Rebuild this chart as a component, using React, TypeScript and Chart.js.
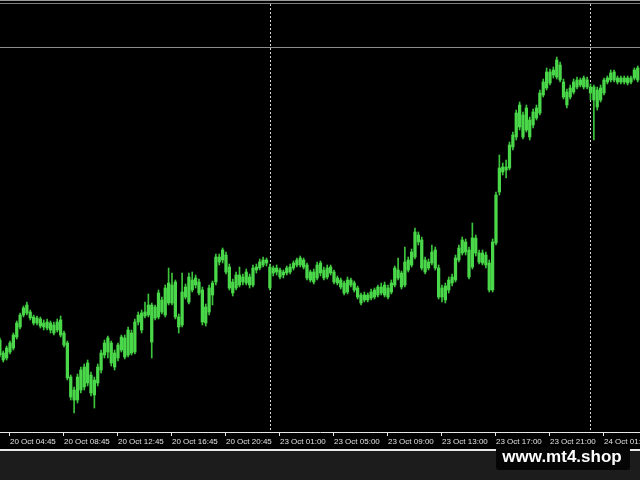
import { useEffect, useRef } from "react";
import { Chart, registerables } from "chart.js";

Chart.register(...registerables);

// M15 bars, index 0 = 20 Oct 04:00 (prices in points)
const openP = [
  100, 80, 82, 88, 92, 103, 113, 125, 127, 128,
  123, 117, 121, 113, 118, 110, 115, 110, 120, 107,
  97, 63, 40, 40, 50, 53, 77, 65, 45, 57,
  70, 85, 102, 97, 73, 82, 103, 83, 110, 87,
  88, 118, 127, 124, 125, 135, 122, 123, 140, 125,
  137, 155, 158, 113, 115, 143, 138, 160, 155, 158,
  150, 117, 128, 145, 158, 183, 180, 185, 173, 147,
  165, 155, 163, 157, 163, 155, 170, 172, 175, 180,
  152, 172, 168, 170, 165, 167, 168, 172, 175, 175,
  180, 175, 168, 158, 162, 177, 162, 163, 173, 168,
  162, 160, 157, 148, 160, 157, 152, 145, 140, 145,
  142, 143, 145, 153, 145, 152, 148, 155, 170, 167,
  155, 170, 175, 183, 205, 200, 168, 178, 177, 190,
  172, 143, 154, 150, 157, 160, 180, 187, 198, 190,
  173, 202, 187, 177, 185, 177, 150, 197, 248, 273,
  270, 272, 293, 303, 313, 325, 310, 320, 315, 322,
  327, 345, 352, 368, 365, 363, 375, 358, 348, 343,
  348, 353, 360, 353, 360, 353, 340, 350, 340, 347,
  358, 360, 368, 358, 362, 358, 362, 358, 362, 372,
];
const highP = [
  102, 89, 94, 99, 107, 119, 127, 134, 138, 130,
  125, 124, 123, 120, 121, 119, 118, 121, 124, 109,
  99, 65, 53, 66, 73, 76, 80, 68, 63, 76,
  90, 100, 104, 99, 90, 97, 105, 105, 113, 110,
  121, 128, 130, 138, 146, 137, 135, 150, 143, 155,
  172, 167, 160, 126, 167, 156, 167, 168, 165, 161,
  153, 136, 155, 159, 186, 186, 192, 188, 176, 161,
  168, 173, 166, 171, 166, 175, 176, 181, 183, 182,
  176, 174, 175, 172, 170, 174, 176, 179, 182, 184,
  182, 177, 170, 171, 178, 179, 173, 175, 175, 170,
  164, 162, 159, 163, 162, 159, 154, 147, 148, 147,
  151, 152, 155, 157, 158, 155, 160, 174, 182, 169,
  193, 183, 191, 212, 208, 203, 183, 181, 195, 193,
  175, 155, 157, 163, 166, 185, 195, 203, 201, 193,
  217, 205, 190, 190, 188, 180, 201, 248, 285, 277,
  280, 298, 308, 330, 338, 328, 335, 323, 331, 335,
  350, 361, 372, 371, 373, 383, 378, 361, 351, 355,
  361, 363, 362, 364, 363, 356, 355, 353, 355, 362,
  364, 370, 370, 364, 364, 364, 364, 364, 372, 374,
];
const lowP = [
  83, 78, 80, 86, 90, 101, 111, 123, 125, 120,
  115, 115, 112, 110, 110, 107, 105, 108, 103, 93,
  60, 40, 27, 37, 47, 50, 54, 44, 32, 54,
  67, 82, 82, 74, 70, 79, 88, 81, 83, 85,
  86, 115, 107, 122, 123, 82, 120, 121, 126, 123,
  135, 135, 121, 107, 113, 141, 136, 148, 152, 145,
  115, 114, 125, 135, 155, 175, 177, 166, 150, 144,
  150, 153, 155, 155, 152, 153, 167, 170, 173, 174,
  150, 164, 165, 161, 162, 165, 166, 170, 173, 173,
  171, 160, 158, 156, 160, 164, 160, 161, 165, 156,
  155, 151, 145, 146, 153, 148, 141, 135, 138, 138,
  140, 141, 143, 145, 143, 141, 146, 153, 160, 151,
  153, 168, 173, 181, 195, 170, 166, 170, 175, 170,
  141, 138, 137, 147, 154, 158, 178, 185, 185, 161,
  171, 184, 176, 175, 172, 148, 148, 195, 245, 265,
  262, 270, 290, 300, 310, 301, 308, 300, 312, 320,
  325, 343, 350, 355, 362, 361, 358, 341, 332, 341,
  346, 351, 353, 351, 351, 340, 300, 330, 338, 345,
  356, 358, 358, 356, 356, 356, 355, 356, 360, 358,
];
const closeP = [
  85, 87, 92, 97, 105, 117, 125, 132, 135, 122,
  117, 122, 114, 117, 112, 117, 107, 118, 105, 95,
  62, 43, 50, 63, 70, 73, 57, 47, 60, 73,
  87, 97, 88, 77, 87, 95, 90, 102, 85, 107,
  118, 125, 110, 128, 135, 98, 133, 147, 128, 152,
  157, 137, 123, 123, 148, 153, 163, 150, 162, 147,
  118, 133, 152, 157, 183, 178, 190, 168, 152, 158,
  152, 165, 158, 168, 155, 172, 173, 178, 180, 177,
  173, 167, 172, 163, 168, 172, 173, 177, 180, 182,
  173, 162, 160, 168, 175, 167, 170, 172, 167, 158,
  157, 153, 147, 160, 155, 150, 143, 137, 145, 140,
  148, 150, 153, 147, 155, 143, 157, 172, 162, 153,
  178, 180, 188, 208, 198, 172, 180, 172, 188, 172,
  143, 152, 140, 160, 163, 182, 192, 200, 188, 163,
  202, 187, 178, 187, 175, 150, 198, 245, 272, 268,
  273, 295, 305, 327, 335, 303, 332, 303, 328, 332,
  347, 358, 368, 357, 370, 380, 360, 343, 335, 352,
  358, 360, 355, 362, 353, 347, 353, 333, 352, 360,
  362, 367, 360, 362, 358, 362, 357, 362, 370, 360,
];

const tickIndex = [3, 19, 35, 51, 67, 83, 99, 115, 131, 147, 163, 179];
const tickLabels = [
  "20 Oct 04:45", "20 Oct 08:45", "20 Oct 12:45", "20 Oct 16:45",
  "20 Oct 20:45", "23 Oct 01:00", "23 Oct 05:00", "23 Oct 09:00",
  "23 Oct 13:00", "23 Oct 17:00", "23 Oct 21:00", "24 Oct 01:00",
];
const separatorIndex = [80, 175];
const levelLine = 393;
const watermark = "www.mt4.shop";

const BODY = "#4ad84a";
const WICK = "#3cc43c";

export default function App() {
  const ref = useRef<HTMLCanvasElement | null>(null);

  useEffect(() => {
    if (!ref.current) return;
    const wickData = highP.map((h, i) => ({ x: i, y: [lowP[i], h] }));
    const bodyData = openP.map((o, i) => ({ x: i, y: [o, closeP[i]] }));

    const frame = {
      id: "mt4frame",
      beforeDraw(chart: any) {
        const c = chart.ctx;
        c.save();
        c.fillStyle = "#1c1c1c";
        c.fillRect(0, 0, 640, 480);
        c.fillStyle = "#000000";
        c.fillRect(0, 0, 640, 450);
        c.fillStyle = "#999999";
        c.fillRect(0, 0, 640, 1);
        c.fillStyle = "#808080";
        c.fillRect(0, 3, 640, 1);
        c.restore();
      },
      beforeDatasetsDraw(chart: any) {
        const c = chart.ctx;
        const xs = chart.scales.x;
        const ys = chart.scales.y;
        const ca = chart.chartArea;
        c.save();
        c.strokeStyle = "#8c8c8c";
        c.lineWidth = 1;
        const yl = Math.round(ys.getPixelForValue(levelLine)) + 0.5;
        c.beginPath();
        c.moveTo(0, yl);
        c.lineTo(640, yl);
        c.stroke();
        c.strokeStyle = "#d0d0d0";
        c.setLineDash([2, 2]);
        separatorIndex.forEach((s) => {
          const x = Math.round(xs.getPixelForValue(s)) + 0.5;
          c.beginPath();
          c.moveTo(x, 4);
          c.lineTo(x, ca.bottom);
          c.stroke();
        });
        c.restore();
      },
      afterDraw(chart: any) {
        const c = chart.ctx;
        c.save();
        c.fillStyle = "#e8e8e8";
        c.fillRect(0, 449, 640, 2);
        c.fillStyle = "#050505";
        c.beginPath();
        (c as any).roundRect(496, 447, 134, 23, 3);
        c.fill();
        c.fillStyle = "#ffffff";
        c.font = "bold 17px 'Liberation Sans', Arial, sans-serif";
        c.textAlign = "center";
        c.textBaseline = "alphabetic";
        c.fillText(watermark, 562, 462);
        c.restore();
      },
    };

    const chart = new Chart(ref.current, {
      type: "bar",
      data: {
        datasets: [
          {
            label: "wick",
            data: wickData as any,
            backgroundColor: WICK,
            barThickness: 1,
            grouped: false,
            order: 2,
          } as any,
          {
            label: "body",
            data: bodyData as any,
            backgroundColor: BODY,
            barThickness: 2.6,
            grouped: false,
            order: 1,
          } as any,
        ],
      },
      options: {
        animation: false,
        responsive: false,
        maintainAspectRatio: false,
        layout: { padding: { top: 5, left: 0, right: 0, bottom: 0 } },
        plugins: { legend: { display: false }, tooltip: { enabled: false } },
        scales: {
          x: {
            type: "linear",
            min: 0.04,
            max: 189.67,
            offset: false,
            afterBuildTicks: (s: any) => {
              s.ticks = tickIndex.map((v) => ({ value: v }));
            },
            afterFit: (s: any) => {
              s.paddingLeft = 0;
              s.paddingRight = 0;
              s.height = 48;
            },
            ticks: {
              autoSkip: false,
              maxRotation: 0,
              minRotation: 0,
              align: "start",
              padding: 1,
              color: "#e0e0e0",
              font: { family: "'Liberation Sans', Arial, sans-serif", size: 8 },
              callback: (v: any) => {
                const k = tickIndex.indexOf(Number(v));
                return k >= 0 ? tickLabels[k] : "";
              },
            },
            grid: {
              offset: false,
              drawOnChartArea: false,
              drawTicks: true,
              tickLength: 4,
              color: "#e6e6e6",
              lineWidth: 1,
            },
            border: { display: true, color: "#e6e6e6", width: 1 },
          } as any,
          y: { display: false, min: 8, max: 435 },
        },
      },
      plugins: [frame],
    });
    return () => chart.destroy();
  }, []);

  return (
    <div style={{ position: "absolute", left: 0, top: 0, width: 640, height: 480 }}>
      <canvas ref={ref} width={640} height={480} />
    </div>
  );
}
